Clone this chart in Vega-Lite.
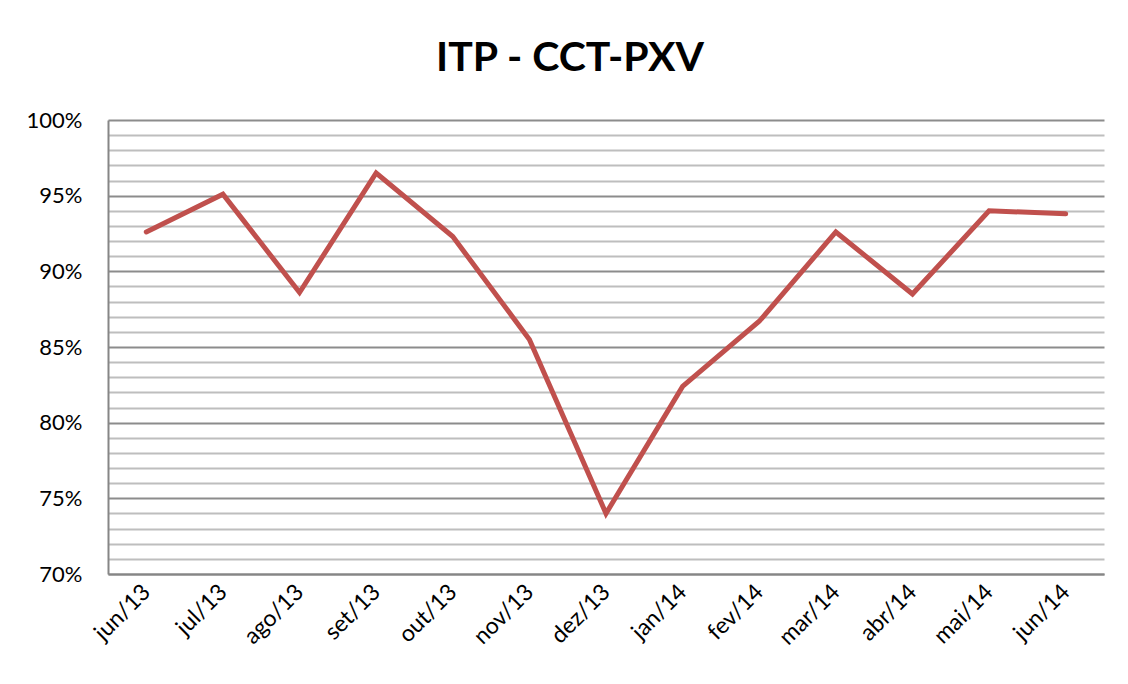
{
  "$schema": "https://vega.github.io/schema/vega-lite/v6.json",
  "autosize": "none",
  "width": 996,
  "height": 454,
  "padding": {"left": 108, "top": 120, "right": 24, "bottom": 110},
  "background": "white",
  "title": {
    "text": "ITP - CCT-PXV",
    "font": "Lato",
    "fontSize": 41,
    "fontWeight": "bold",
    "color": "#000000",
    "anchor": "middle",
    "dx": -36,
    "offset": 29
  },
  "data": {
    "values": [
      {"mes": "jun/13", "itp": 0.926},
      {"mes": "jul/13", "itp": 0.951},
      {"mes": "ago/13", "itp": 0.886},
      {"mes": "set/13", "itp": 0.965},
      {"mes": "out/13", "itp": 0.923},
      {"mes": "nov/13", "itp": 0.855},
      {"mes": "dez/13", "itp": 0.740},
      {"mes": "jan/14", "itp": 0.824},
      {"mes": "fev/14", "itp": 0.867},
      {"mes": "mar/14", "itp": 0.926},
      {"mes": "abr/14", "itp": 0.885},
      {"mes": "mai/14", "itp": 0.940},
      {"mes": "jun/14", "itp": 0.938}
    ]
  },
  "mark": {"type": "line", "color": "#C0504D", "strokeWidth": 5, "strokeCap": "round", "strokeJoin": "miter"},
  "encoding": {
    "x": {
      "field": "mes",
      "type": "ordinal",
      "sort": null,
      "scale": {"type": "point", "padding": 0.5},
      "axis": {
        "title": null,
        "labelAngle": -45,
        "labelAlign": "right",
        "labelBaseline": "middle",
        "labelFont": "Lato",
        "labelFontSize": 23,
        "labelColor": "#000000",
        "labelPadding": 14,
        "ticks": false,
        "grid": false,
        "domainColor": "#868686",
        "domainWidth": 2
      }
    },
    "y": {
      "field": "itp",
      "type": "quantitative",
      "scale": {"domain": [0.7, 1.0], "nice": false, "zero": false},
      "axis": {
        "title": null,
        "values": [0.70, 0.71, 0.72, 0.73, 0.74, 0.75, 0.76, 0.77, 0.78, 0.79, 0.80, 0.81, 0.82, 0.83, 0.84, 0.85, 0.86, 0.87, 0.88, 0.89, 0.90, 0.91, 0.92, 0.93, 0.94, 0.95, 0.96, 0.97, 0.98, 0.99, 1.00],
        "labelExpr": "round(datum.value*100) % 5 === 0 ? format(datum.value, '.0%') : ''",
        "labelFont": "Lato",
        "labelFontSize": 22,
        "labelColor": "#000000",
        "labelPadding": 26,
        "ticks": false,
        "grid": true,
        "gridColor": {"condition": {"test": "round(datum.value*100) % 5 === 0", "value": "#8C8C8C"}, "value": "#BEBEBE"},
        "gridWidth": 2,
        "domainColor": "#868686",
        "domainWidth": 2
      }
    }
  },
  "config": {"view": {"stroke": null}}
}
